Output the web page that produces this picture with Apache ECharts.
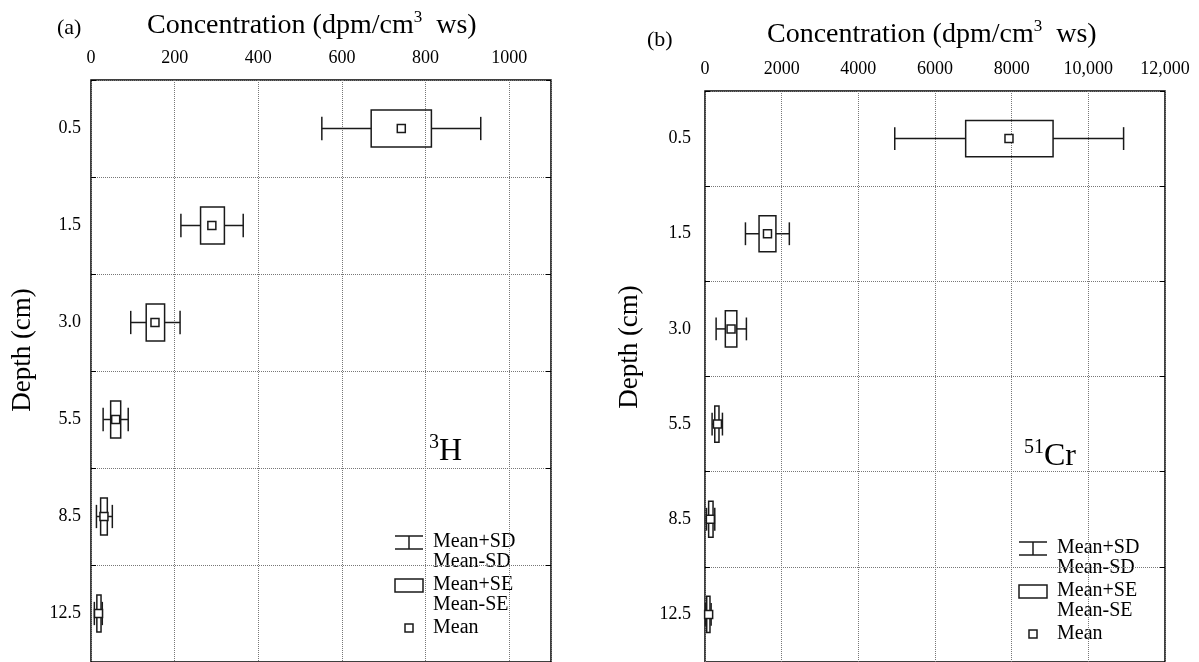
<!DOCTYPE html>
<html>
<head>
<meta charset="utf-8">
<script src="https://cdn.jsdelivr.net/npm/echarts@6/dist/echarts.min.js"></script>
<style>
html,body{margin:0;padding:0;background:#fff;}
#c{width:1199px;height:662px;}
</style>
</head>
<body>
<div id="c"></div>
<script>
// ---- data ----
const depths = ['0.5', '1.5', '3.0', '5.5', '8.5', '12.5'];

// Panel (a): 3H, dpm/cm3 ws
const h3SdLow  = [552, 215,  95, 29, 13,  8];
const h3SeLow  = [670, 262, 132, 47, 23, 14];
const h3Mean   = [742, 289, 153, 59, 31, 18];
const h3SeHigh = [814, 319, 176, 71, 39, 24];
const h3SdHigh = [932, 364, 213, 89, 51, 27];

// Panel (b): 51Cr, dpm/cm3 ws
const crSdLow  = [4950, 1055,  290, 185,  40,  15];
const crSeLow  = [6800, 1410,  530, 255,  95,  45];
const crMean   = [7930, 1630,  680, 325, 140,  95];
const crSeHigh = [9080, 1850,  830, 365, 210, 130];
const crSdHigh = [10920, 2200, 1080, 455, 255, 160];

const ticksA = ['0', '200', '400', '600', '800', '1000'];
const ticksB = ['0', '2000', '4000', '6000', '8000', '10,000', '12,000'];

// ---- build ----
const FONT = '"Liberation Serif", "Times New Roman", serif';
const INK = '#1a1a1a';

function rows(sdL, seL, m, seH, sdH) {
  return depths.map((d, i) => [i, sdL[i], seL[i], m[i], seH[i], sdH[i]]);
}

function renderBox(params, api) {
  const idx = api.value(0);
  const cy = api.coord([0, idx])[1];
  const band = api.size([0, 1])[1];
  const xs = [1, 2, 3, 4, 5].map(k => api.coord([api.value(k), idx])[0]);
  const boxH = band * 0.38, capH = band * 0.24, ms = 8;
  const st = { stroke: INK, lineWidth: 1.5, fill: null };
  return {
    type: 'group',
    children: [
      { type: 'line', shape: { x1: xs[0], y1: cy, x2: xs[1], y2: cy }, style: st },
      { type: 'line', shape: { x1: xs[3], y1: cy, x2: xs[4], y2: cy }, style: st },
      { type: 'line', shape: { x1: xs[0], y1: cy - capH / 2, x2: xs[0], y2: cy + capH / 2 }, style: st },
      { type: 'line', shape: { x1: xs[4], y1: cy - capH / 2, x2: xs[4], y2: cy + capH / 2 }, style: st },
      { type: 'rect', shape: { x: xs[1], y: cy - boxH / 2, width: xs[3] - xs[1], height: boxH }, style: { stroke: INK, lineWidth: 1.5, fill: 'rgba(255,255,255,0)' } },
      { type: 'rect', shape: { x: xs[2] - ms / 2, y: cy - ms / 2, width: ms, height: ms }, style: { stroke: INK, lineWidth: 1.5, fill: '#fff' } }
    ]
  };
}

function xAxisCfg(grid, max, interval, labels) {
  return {
    type: 'value', gridIndex: grid, position: 'top', min: 0, max: max, interval: interval,
    axisLine: { show: false }, axisTick: { show: false },
    axisLabel: {
      fontFamily: FONT, fontSize: 18, color: '#000', margin: 13, showMaxLabel: max % interval === 0,
      formatter: v => { const i = Math.round(v / interval); return labels[i] !== undefined ? labels[i] : ''; }
    },
    splitLine: { show: true, lineStyle: { type: 'dotted', color: '#777', width: 1 } }
  };
}
function yAxisCfg(grid, pos, showLabel, margin) {
  return {
    type: 'category', gridIndex: grid, data: depths, inverse: true, position: pos,
    axisLine: { show: false },
    axisTick: { show: true, inside: true, length: 5, interval: 0, lineStyle: { color: '#000' } },
    axisLabel: { show: showLabel, fontFamily: FONT, fontSize: 18, color: '#000', margin: margin },
    splitLine: { show: showLabel, interval: 0, lineStyle: { type: 'dotted', color: '#777', width: 1 } }
  };
}

function legend(x0, y0) {
  const s = { stroke: INK, lineWidth: 1.5 };
  const tf = { fontFamily: FONT, fontSize: 20, fill: '#000', lineHeight: 20, verticalAlign: 'top' };
  return [
    { type: 'line', shape: { x1: x0, y1: y0, x2: x0 + 28, y2: y0 }, style: s },
    { type: 'line', shape: { x1: x0 + 14, y1: y0, x2: x0 + 14, y2: y0 + 13 }, style: s },
    { type: 'line', shape: { x1: x0, y1: y0 + 13, x2: x0 + 28, y2: y0 + 13 }, style: s },
    { type: 'text', x: x0 + 38, y: y0 - 4, style: Object.assign({ text: 'Mean+SD\nMean-SD' }, tf) },
    { type: 'rect', shape: { x: x0, y: y0 + 43, width: 28, height: 13 }, style: { stroke: INK, lineWidth: 1.5, fill: '#fff' } },
    { type: 'text', x: x0 + 38, y: y0 + 39, style: Object.assign({ text: 'Mean+SE\nMean-SE' }, tf) },
    { type: 'rect', shape: { x: x0 + 10, y: y0 + 88, width: 8, height: 8 }, style: { stroke: INK, lineWidth: 1.5, fill: '#fff' } },
    { type: 'text', x: x0 + 38, y: y0 + 82, style: Object.assign({ text: 'Mean' }, tf) }
  ];
}

function supText(x, y, txt, size, supSize) {
  return {
    type: 'text', x: x, y: y,
    style: {
      text: txt, fontFamily: FONT, fontSize: size, fill: '#000', align: 'left', verticalAlign: 'middle',
      rich: {
        m: { fontFamily: FONT, fontSize: size, fill: '#000', lineHeight: size * 1.1, verticalAlign: 'bottom' },
        s: { fontFamily: FONT, fontSize: supSize, fill: '#000', lineHeight: size * 1.1, verticalAlign: 'top' }
      }
    }
  };
}

const chart = echarts.init(document.getElementById('c'), null, { renderer: 'canvas' });
chart.setOption({
  animation: false,
  backgroundColor: '#fff',
  grid: [
    { left: 91, top: 80, width: 460, height: 584, show: true, borderColor: '#000', borderWidth: 1.5, backgroundColor: 'transparent' },
    { left: 705, top: 91, width: 460, height: 572, show: true, borderColor: '#000', borderWidth: 1.5, backgroundColor: 'transparent' }
  ],
  xAxis: [ xAxisCfg(0, 1100, 200, ticksA), xAxisCfg(1, 12000, 2000, ticksB) ],
  yAxis: [ yAxisCfg(0, 'left', true, 10), yAxisCfg(1, 'left', true, 14), yAxisCfg(0, 'right', false, 0), yAxisCfg(1, 'right', false, 0) ],
  series: [
    { type: 'custom', name: '3H', xAxisIndex: 0, yAxisIndex: 0, renderItem: renderBox,
      encode: { x: [1, 2, 3, 4, 5], y: 0 }, data: rows(h3SdLow, h3SeLow, h3Mean, h3SeHigh, h3SdHigh), z: 10 },
    { type: 'custom', name: '51Cr', xAxisIndex: 1, yAxisIndex: 1, renderItem: renderBox,
      encode: { x: [1, 2, 3, 4, 5], y: 0 }, data: rows(crSdLow, crSeLow, crMean, crSeHigh, crSdHigh), z: 10 }
  ],
  graphic: [
    { type: 'text', x: 57, y: 28, style: { text: '(a)', fontFamily: FONT, fontSize: 22, fill: '#000', verticalAlign: 'middle' } },
    { type: 'text', x: 647, y: 40, style: { text: '(b)', fontFamily: FONT, fontSize: 22, fill: '#000', verticalAlign: 'middle' } },
    supText(147, 24, '{m|Concentration (dpm/cm}{s|3}{m|  ws)}', 28, 17),
    supText(767, 33, '{m|Concentration (dpm/cm}{s|3}{m|  ws)}', 28, 17),
    { type: 'text', x: 23, y: 350, rotation: Math.PI / 2, style: { text: 'Depth (cm)', fontFamily: FONT, fontSize: 27, fill: '#000', align: 'center', verticalAlign: 'middle' } },
    { type: 'text', x: 630, y: 347, rotation: Math.PI / 2, style: { text: 'Depth (cm)', fontFamily: FONT, fontSize: 27, fill: '#000', align: 'center', verticalAlign: 'middle' } },
    supText(429, 450, '{s|3}{m|H}', 32, 20),
    supText(1024, 455, '{s|51}{m|Cr}', 32, 20)
  ].concat(legend(395, 536), legend(1019, 542))
});
</script>
</body>
</html>
